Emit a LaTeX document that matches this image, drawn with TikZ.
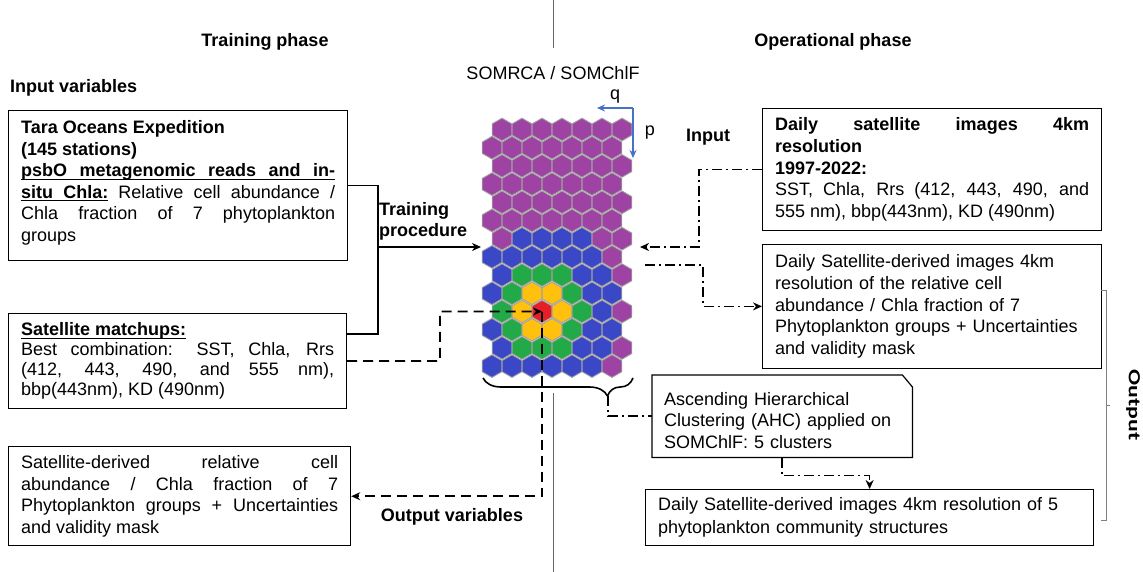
\documentclass[tikz,border=0pt]{standalone}
\usepackage{fontspec}
\setmainfont{Liberation Sans}
\newfontfamily\carlitofont{Carlito}
\usepackage{tikz}
\usetikzlibrary{positioning, arrows.meta, calc, decorations.pathreplacing}
\tolerance=10000
\hbadness=10000
% underlined word and underlined stretchable space
\newcommand\ulw[1]{\setbox0\hbox{#1}\rlap{\rule[-3.2pt]{\wd0}{1.1pt}}\box0}
\newcommand\ulsp{\leaders\hrule height -2.1pt depth 3.2pt\hskip\fontdimen2\font plus\fontdimen3\font minus\fontdimen4\font}
\definecolor{cell_p}{RGB}{158,66,163}
\definecolor{cell_b}{RGB}{58,72,200}
\definecolor{cell_g}{RGB}{34,170,72}
\definecolor{cell_y}{RGB}{255,192,14}
\definecolor{cell_r}{RGB}{230,30,40}
\definecolor{cell_edge}{RGB}{160,160,160}
\definecolor{axis_blue}{RGB}{68,114,196}
\tikzstyle{arrow} = [line width=1.6pt,-{Stealth[length=9pt,width=8pt]}]
\tikzstyle{dash_arrow} = [arrow, dash pattern=on 10pt off 6pt]
\tikzstyle{dashdot_arrow} = [arrow, dash pattern=on 10pt off 4pt on 2pt off 4pt]
\tikzstyle{infobox} = [draw, line width=1.2pt, anchor=north west, inner xsep=12.5pt, font=\fontsize{18}{20}\selectfont]
\tikzstyle{label_b} = [font=\fontsize{18}{20.5}\selectfont\bfseries, inner sep=0pt]
\tikzstyle{hexcell} = [draw=cell_edge, line width=0.9pt]

\begin{document}
\begin{tikzpicture}[x=1pt, y=-1pt]
        \useasboundingbox (0,0) rectangle (1143,572);

        % SOM grid
        \foreach \rowcells [count=\ri from 0] in {
            {p,p,p,p,p,p,p},{p,p,p,p,p,p,p},{p,p,p,p,p,p,p},
            {p,p,p,p,p,p,p},{p,p,p,p,p,p,p},{p,p,p,p,p,p,p},
            {p,b,b,b,b,p,p},{b,b,b,b,b,b,p},{b,g,g,g,b,b,p},
            {b,g,y,y,g,b,b},{g,y,r,y,g,b,p},{b,g,y,y,g,b,b},
            {b,g,g,g,b,b,p},{b,b,b,b,b,b,p}}
        {
            \foreach \cc [count=\k from 0] in \rowcells {
                \pgfmathsetmacro{\hx}{492+20*\k+10*(1-mod(\ri,2))}
                \pgfmathsetmacro{\hy}{129.5+18.2*\ri}
                \coordinate (h\ri-\k) at (\hx,\hy);
                \filldraw[hexcell, fill=cell_\cc] (h\ri-\k) +(90:11.3) -- +(30:11.3) -- +(-30:11.3) -- +(-90:11.3) -- +(-150:11.3) -- +(150:11.3) -- cycle;
            }
        }
        \coordinate (grid_in_l) at (481,247);
        \coordinate (grid_in_r) at (640,247);
        \coordinate (grid_out_r) at (645,265);
        \coordinate (grid_sw) at (483,378);
        \coordinate (grid_se) at (633,378);
        \coordinate (brace_tip) at (608,396);
        \coordinate (axis_o) at (633,108);
        \coordinate (train_join) at (378,247);

        % headings
        \draw[gray!80!black, line width=0.8pt] (553,0) -- (553,48);
        \draw[gray!80!black, line width=0.8pt] (553,393) -- (553,572);
        \node (train_phase) [label_b] at (265,42) {Training phase};
        \node (oper_phase) [label_b] at (833,42) {Operational phase};
        \node (input_vars) [label_b, anchor=west] at (10,88) {Input variables};
        \node (som_title) [font=\fontsize{18}{20}\selectfont, inner sep=0pt] at (553,73) {SOMRCA / SOMChlF};
        \node (input_lbl) [label_b] at (708,137) {Input};

        % training side
        \node (tara_box) [infobox, text width=314pt, align=justify, inner ysep=10pt, font=\fontsize{18}{21.5}\selectfont] at (8,110) {\textbf{Tara Oceans Expedition}\\ \textbf{(145 stations)}\\ {\bfseries\ulw{psbO}\ulsp\ulw{metagenomic}\ulsp\ulw{reads}\ulsp\ulw{and}\ulsp\ulw{in-}}\linebreak {\bfseries\ulw{situ}\ulsp\ulw{Chla:}} Relative cell abundance /\linebreak Chla fraction of 7 phytoplankton\linebreak groups\rule[-9pt]{0pt}{0pt}};
        \node (sat_box) [infobox, text width=313pt, align=justify, inner ysep=9pt] at (8,313) {{\bfseries\ulw{Satellite}\ulsp\ulw{matchups:}}\\ Best combination: SST, Chla, Rrs\linebreak (412, 443, 490, and 555 nm),\linebreak bbp(443nm), KD (490nm)};
        \node (out_box) [infobox, text width=317pt, align=justify, inner ysep=9pt, font=\fontsize{18}{21.5}\selectfont] at (8,446) {Satellite-derived relative cell\linebreak abundance / Chla fraction of 7\linebreak Phytoplankton groups + Uncertainties\linebreak and validity mask};
        \node (train_lbl) [label_b, align=left, anchor=south west] at ([xshift=1pt, yshift=7pt]train_join) {Training\\procedure};
        \node (outvar_lbl) [label_b] at (452,517) {Output variables};

        \draw[line width=1.6pt] (tara_box.east) -| (train_join) |- ([yshift=27pt]sat_box.east);
        \draw[arrow] (train_join) -- (grid_in_l);
        \draw[dash_arrow] (sat_box.east) -| (440,311.5) -- (h10-2);
        \draw[dash_arrow] (h10-2) |- (out_box.east);

        % q / p axes
        \draw[axis_blue, line width=1.3pt, -{Stealth[length=8pt,width=7pt]}] (axis_o) -- node (q_lbl) [midway, above, black, font=\fontsize{18}{20}\selectfont, yshift=1pt] {q} ++(-36,0);
        \draw[axis_blue, line width=1.3pt, -{Stealth[length=8pt,width=7pt]}] (axis_o) -- node (p_lbl) [midway, right, black, font=\fontsize{18}{20}\selectfont, xshift=8pt] {p} ++(0,50);

        % operational side
        \node (daily_box) [infobox, text width=314pt, align=justify, inner ysep=9pt, font=\fontsize{18}{21.7}\selectfont] at (762,108) {\textbf{Daily satellite images 4km}\linebreak \textbf{resolution}\\ \textbf{1997-2022:}\\ SST, Chla, Rrs (412, 443, 490, and\linebreak 555 nm), bbp(443nm), KD (490nm)};
        \node (derived_box) [infobox, text width=314pt, align=left, inner ysep=10pt, font=\fontsize{18}{21.7}\selectfont] at (762,244) {Daily Satellite-derived images 4km\\ resolution of the relative cell\\ abundance / Chla fraction of 7\\ Phytoplankton groups + Uncertainties\\ and validity mask};
        \node (ahc_box) [anchor=north west, inner xsep=12pt, inner ysep=9pt, text width=236pt, align=left, font=\fontsize{18}{21.5}\selectfont] at (652,375) {\rule{0pt}{21pt}Ascending Hierarchical\\ Clustering (AHC) applied on\\ SOMChlF: 5 clusters};
        \draw[line width=1.2pt] (ahc_box.north west) -- ([xshift=-10pt]ahc_box.north east) -- ([yshift=-12pt]ahc_box.north east) -- (ahc_box.south east) -- (ahc_box.south west) -- cycle;
        \node (pcs_box) [infobox, text width=423pt, align=left, inner ysep=8pt, font=\fontsize{18}{23}\selectfont] at (645,489) {Daily Satellite-derived images 4km resolution of 5\\ phytoplankton community structures};

        \draw[dashdot_arrow] (daily_box.west) -- ++(-63,0) |- (grid_in_r);
        \draw[dashdot_arrow] (grid_out_r) -- ++(58,0) |- (derived_box.west);
        \draw[line width=1.6pt, decorate, decoration={brace, mirror, amplitude=18pt, aspect=0.83}] (grid_sw) -- (grid_se);
        \draw[line width=1.6pt, dash pattern=on 10pt off 4pt on 2pt off 4pt] (brace_tip) |- (ahc_box.west);
        \draw[dashdot_arrow] (ahc_box.south) -- ++(0,18) -| (pcs_box.north);

        % output bracket
        \draw[gray, line width=0.8pt] (1101,290) -- (1106,290) -- (1106,520) -- (1101,520);
        \draw[gray, line width=0.8pt] (1106,405) -- (1110,405);
        \begin{scope}[shift={(1133,405)}, rotate=-90]
            \node (output_lbl) [xscale=1.4, transform shape, font=\carlitofont\fontsize{17}{20}\selectfont\bfseries] {Output};
        \end{scope}
    \end{tikzpicture}
\end{document}
